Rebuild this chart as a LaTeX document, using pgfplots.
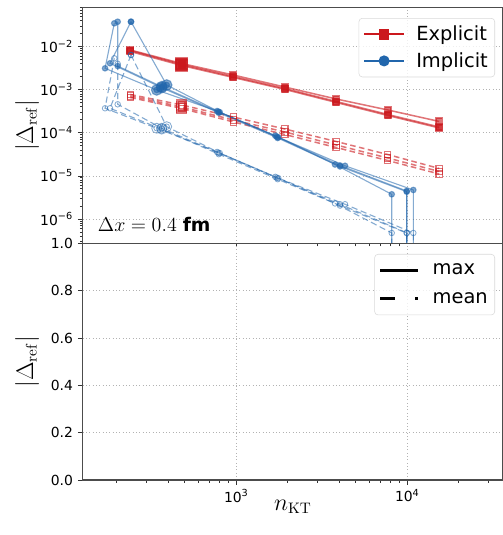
\documentclass[border=0pt]{standalone}
\usepackage[no-math]{fontspec}
\setmainfont{DejaVu Sans}
\usepackage{pgfplots}
\pgfplotsset{compat=1.18}
\definecolor{exC}{RGB}{203,24,29}
\definecolor{imC}{RGB}{33,102,172}
\tikzset{
  exmax/.style={exC, opacity=0.6, line width=1.1pt, mark=square*, mark size=2.3pt},
  exmean/.style={exC, opacity=0.6, line width=1.1pt, dash pattern=on 4pt off 2.5pt, mark=square, mark size=2.3pt, mark options={solid, line width=0.8pt}},
  immax/.style={imC, opacity=0.55, line width=0.8pt, mark=*, mark size=2pt},
  immean/.style={imC, opacity=0.55, line width=0.8pt, dash pattern=on 4.5pt off 2.5pt, mark=o, mark size=2pt, mark options={solid, line width=0.6pt}},
}
\begin{document}
\begin{tikzpicture}
% ---------------- top panel ----------------
\begin{axis}[scale only axis, width=302.62pt, height=170.06pt,
  at={(59.54pt,209.88pt)}, anchor=south west,
  xmode=log, xmin=126.4, xmax=36270,
  ymode=log, ymin=2.70e-7, ymax=8.21e-2,
  tick align=outside, major tick length=3.5pt, minor tick length=2pt,
  tick style={black!80, line width=0.6pt},
  axis line style={black!70, line width=0.9pt},
  grid=major, major grid style={gray!60, dotted, line width=0.6pt},
  ytick pos=left, xtick pos=bottom,
  tick label style={font=\fontsize{10}{12}\selectfont},
  ytick={1e-6,1e-5,1e-4,1e-3,1e-2},
  yticklabels={10\textsuperscript{−6},10\textsuperscript{−5},10\textsuperscript{−4},10\textsuperscript{−3},10\textsuperscript{−2}},
  minor ytick={3e-7,4e-7,5e-7,6e-7,7e-7,8e-7,9e-7,
    2e-6,3e-6,4e-6,5e-6,6e-6,7e-6,8e-6,9e-6,
    2e-5,3e-5,4e-5,5e-5,6e-5,7e-5,8e-5,9e-5,
    2e-4,3e-4,4e-4,5e-4,6e-4,7e-4,8e-4,9e-4,
    2e-3,3e-3,4e-3,5e-3,6e-3,7e-3,8e-3,9e-3,
    2e-2,3e-2,4e-2,5e-2,6e-2,7e-2,8e-2},
  xtick={1000,10000}, xticklabels={}, major x tick style={draw=none},
  ylabel={$|\Delta_{\mathrm{ref}}|$},
  ylabel style={font=\fontsize{16}{19}\selectfont, at={(axis description cs:-0.1322,0.5)}, anchor=center},
  legend cell align=left,
  legend style={draw=black!15, rounded corners=2.5pt, fill=white, fill opacity=0.8, text opacity=1,
    font=\fontsize{14}{16}\selectfont, inner xsep=3pt, inner ysep=3.5pt, row sep=3pt,
    /tikz/every odd column/.append style={column sep=6pt},
    at={(0.981,0.9547)}, anchor=north east},
  legend image code/.code={\draw[fill opacity=1, draw opacity=1, mark repeat=2,mark phase=2,#1] plot coordinates {(0pt,0pt) (14.4pt,0pt) (28.8pt,0pt)};},
]
% Explicit, max
\addplot[exmax, forget plot] coordinates {(240,8.38e-3)(480,4.07e-3)(960,2.20e-3)(1920,1.16e-3)(3840,6.11e-4)(7680,3.40e-4)(15360,1.84e-4)};
\addplot[exmax, forget plot] coordinates {(240,8.16e-3)(480,3.86e-3)(960,2.03e-3)(1920,1.07e-3)(3840,5.35e-4)(7680,2.67e-4)(15360,1.37e-4)};
\addplot[exmax, forget plot] coordinates {(240,7.74e-3)(480,3.66e-3)(960,1.93e-3)(1920,1.02e-3)(3840,5.07e-4)(7680,2.53e-4)(15360,1.30e-4)};
\addplot[exmax, only marks, mark size=4pt, forget plot] coordinates {(480,4.07e-3)(480,3.86e-3)(480,3.66e-3)};
% Explicit, mean
\addplot[exmean, forget plot] coordinates {(240,7.77e-4)(480,4.43e-4)(960,2.33e-4)(1920,1.23e-4)(3840,6.30e-5)(7680,3.14e-5)(15360,1.49e-5)};
\addplot[exmean, forget plot] coordinates {(240,7.17e-4)(480,3.98e-4)(960,1.99e-4)(1920,1.05e-4)(3840,5.23e-5)(7680,2.61e-5)(15360,1.27e-5)};
\addplot[exmean, forget plot] coordinates {(240,6.62e-4)(480,3.68e-4)(960,1.79e-4)(1920,9.16e-5)(3840,4.57e-5)(7680,2.28e-5)(15360,1.11e-5)};
\addplot[exmean, only marks, mark size=3.6pt, forget plot] coordinates {(480,4.43e-4)(480,3.98e-4)(480,3.68e-4)};
% Implicit, max
\addplot[immax, forget plot] coordinates {(193.4,3.49e-2)(170.8,3.15e-3)(342.4,9.9e-4)(772,3.2e-4)(1690,8.6e-5)(3778,1.84e-5)(8106,3.75e-6)(8106,1e-9)};
\addplot[immax, forget plot] coordinates {(202.5,3.80e-2)(202.5,3.56e-3)(366.2,1.18e-3)(785,3.10e-4)(1723,8.15e-5)(4041,1.75e-5)(9920,4.47e-6)(9920,1e-9)};
\addplot[immax, forget plot] coordinates {(242.2,3.80e-2)(182.6,4.12e-3)(366.2,1.12e-3)(790,2.92e-4)(1745,7.6e-5)(4041,1.66e-5)(9920,4.30e-6)(9920,1e-9)};
\addplot[immax, forget plot] coordinates {(242.2,3.80e-2)(391.7,1.29e-3)(800,3.02e-4)(1760,7.9e-5)(4322,1.72e-5)(10842,4.72e-6)(10842,1e-9)};
\addplot[immax, only marks, mark size=3.8pt, forget plot] coordinates {(342.4,9.9e-4)(366.2,1.18e-3)(366.2,1.12e-3)(391.7,1.29e-3)};
% Implicit, mean
\addplot[immean, forget plot] coordinates {(193.4,5.38e-3)(170.8,3.72e-4)(342.4,1.28e-4)(772,3.6e-5)(1690,9.5e-6)(3778,2.3e-6)(8106,4.74e-7)(8106,1e-9)};
\addplot[immean, forget plot] coordinates {(202.5,4.0e-3)(202.5,4.60e-4)(366.2,1.28e-4)(785,3.45e-5)(1723,9.1e-6)(4041,2.2e-6)(9920,4.8e-7)(9920,1e-9)};
\addplot[immean, forget plot] coordinates {(242.2,6.42e-3)(182.6,3.72e-4)(366.2,1.22e-4)(790,3.2e-5)(1745,8.4e-6)(4041,2.05e-6)(9920,4.7e-7)(9920,1e-9)};
\addplot[immean, forget plot] coordinates {(242.2,6.42e-3)(391.7,1.39e-4)(800,3.4e-5)(1760,8.9e-6)(4322,2.2e-6)(10842,4.74e-7)(10842,1e-9)};
\addplot[immean, only marks, mark size=3.6pt, forget plot] coordinates {(342.4,1.28e-4)(366.2,1.28e-4)(366.2,1.22e-4)(391.7,1.39e-4)};
% legend
\addlegendimage{exC, line width=1.5pt, mark=square*, mark size=3pt}
\addlegendentry{Explicit}
\addlegendimage{imC, line width=1.5pt, mark=*, mark size=3.2pt}
\addlegendentry{Implicit}
\node[anchor=base west, inner sep=0pt, font=\fontsize{13.5}{16}\selectfont] at (rel axis cs:0.0357,0.05) {$\Delta x = 0.4$ \textbf{fm}};
\end{axis}
% ---------------- bottom panel ----------------
\begin{axis}[scale only axis, width=302.62pt, height=170.28pt,
  at={(59.54pt,39.6pt)}, anchor=south west,
  xmode=log, xmin=126.4, xmax=36270,
  ymin=0, ymax=1,
  tick align=outside, major tick length=3.5pt, minor tick length=2pt,
  tick style={black!80, line width=0.6pt},
  axis line style={black!70, line width=0.9pt},
  grid=major, major grid style={gray!60, dotted, line width=0.6pt},
  ytick pos=left, xtick pos=bottom,
  tick label style={font=\fontsize{10}{12}\selectfont},
  ytick={0,0.2,0.4,0.6,0.8,1.0},
  yticklabels={0.0,0.2,0.4,0.6,0.8,1.0},
  xtick={1000,10000}, xticklabels={10\textsuperscript{3},10\textsuperscript{4}},
  minor xtick={200,300,400,500,600,700,800,900,2000,3000,4000,5000,6000,7000,8000,9000,20000,30000},
  xlabel={$n_{\mathrm{KT}}$},
  xlabel style={font=\fontsize{16}{19}\selectfont, at={(axis description cs:0.5,0)}, anchor=base, yshift=-21.6pt},
  ylabel={$|\Delta_{\mathrm{ref}}|$},
  ylabel style={font=\fontsize{16}{19}\selectfont, at={(axis description cs:-0.1322,0.5)}, anchor=center},
  legend cell align=left,
  legend style={draw=black!15, rounded corners=2.5pt, fill=white, fill opacity=0.8, text opacity=1,
    font=\fontsize{14}{16}\selectfont, inner xsep=3pt, inner ysep=5pt, row sep=7pt,
    /tikz/every odd column/.append style={column sep=8pt},
    at={(0.981,0.9556)}, anchor=north east},
  legend image code/.code={\draw[draw opacity=1, #1] (0pt,0pt) -- (27pt,0pt);},
]
\addlegendimage{black, line width=1.8pt}
\addlegendentry{max}
\addlegendimage{black, line width=1.8pt, dash pattern=on 10.8pt off 14.6pt}
\addlegendentry{mean}
\end{axis}
\pgfresetboundingbox
\useasboundingbox (0pt,0pt) rectangle (361.44pt,385.2pt);
\end{tikzpicture}
\end{document}
